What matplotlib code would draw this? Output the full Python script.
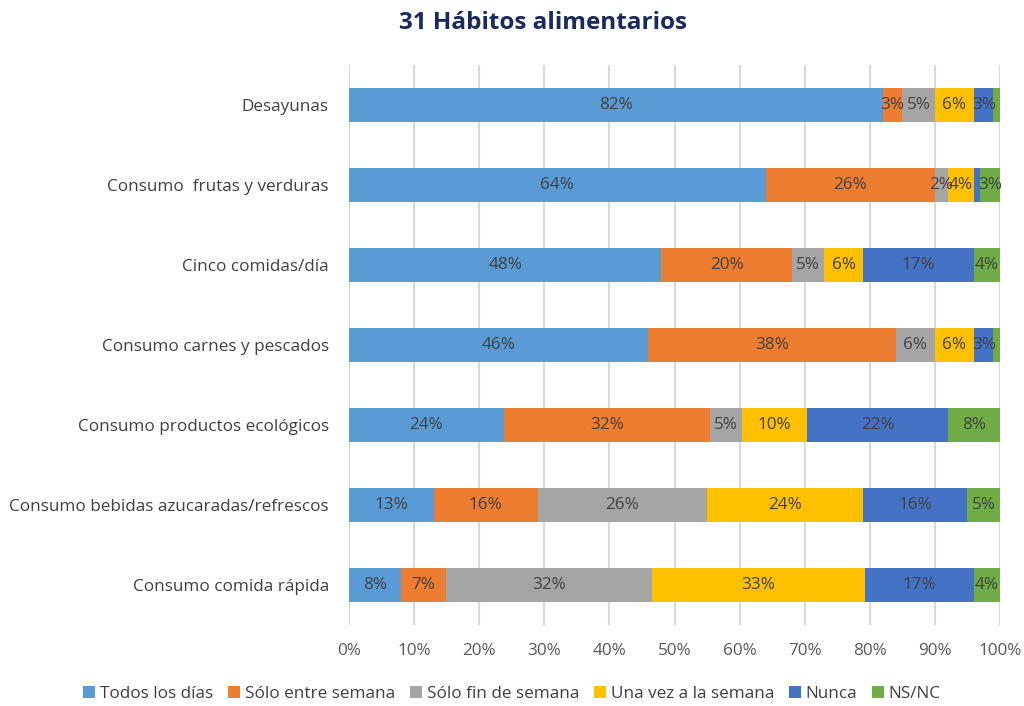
import matplotlib
matplotlib.use("Agg")
import matplotlib.pyplot as plt
import matplotlib.patheffects as pe
import numpy as np

plt.rcParams['font.family'] = ['Open Sans', 'DejaVu Sans']

categories = [
    "Desayunas",
    "Consumo  frutas y verduras",
    "Cinco comidas/día",
    "Consumo carnes y pescados",
    "Consumo productos ecológicos",
    "Consumo bebidas azucaradas/refrescos",
    "Consumo comida rápida",
]
series = ["Todos los días", "Sólo entre semana", "Sólo fin de semana",
          "Una vez a la semana", "Nunca", "NS/NC"]

todos = [82, 64, 48, 46, 24, 13, 8]
entre = [3, 26, 20, 38, 32, 16, 7]
fin = [5, 2, 5, 6, 5, 26, 32]
una_vez = [6, 4, 6, 6, 10, 24, 33]
nunca = [3, 1, 17, 3, 22, 16, 17]
nsnc = [1, 3, 4, 1, 8, 5, 4]

colors = ["#5B9BD5", "#ED7D31", "#A5A5A5", "#FFC000", "#4472C4", "#70AD47"]

data = np.array([todos, entre, fin, una_vez, nunca, nsnc], dtype=float)
totals = data.sum(axis=0)
norm = data / totals * 100

fig = plt.figure(figsize=(10.24, 7.06), dpi=100)
ax = fig.add_axes([349/1024, 1-625/706, 651/1024, 560/706])

fs = 12.3
y = np.arange(len(categories))
left = np.zeros(len(categories))
shadow = [pe.SimplePatchShadow(offset=(1.5, -2), alpha=0.25), pe.Normal()]
for i, (name, col) in enumerate(zip(series, colors)):
    bars = ax.barh(y, norm[i], left=left, height=0.43, color=col, label=name,
                   zorder=3)
    for b in bars:
        b.set_path_effects(shadow)
    for j in range(len(categories)):
        v = data[i][j]
        if v >= 2:
            ax.text(left[j] + norm[i][j] / 2, y[j], f"{int(v)}%",
                    ha="center", va="center", fontsize=fs, color="#404040",
                    zorder=5)
    left += norm[i]

ax.set_xlim(0, 100)
ax.set_ylim(len(categories) - 0.5, -0.5)
ax.set_yticks(y)
ax.set_yticklabels(categories, fontsize=fs, color="#404040")
ax.set_xticks(np.arange(0, 101, 10))
ax.set_xticklabels([f"{t}%" for t in range(0, 101, 10)], fontsize=fs,
                   color="#595959")
ax.tick_params(axis="both", length=0)
ax.tick_params(axis="y", pad=14.5)
ax.tick_params(axis="x", pad=13)
ax.grid(axis="x", color="#D9D9D9", linewidth=1.5, zorder=0)
for s in ax.spines.values():
    s.set_visible(False)

fig.text(0.53, 0.967, "31 Hábitos alimentarios", ha="center", va="center",
         fontsize=17.5, fontweight="bold", color="#1B2A5E")

handles, labels = ax.get_legend_handles_labels()
for h in handles:
    for p in h.patches:
        p.set_path_effects([])
fig.legend(handles, labels, loc="center", bbox_to_anchor=(0.50, 0.017),
           ncol=6, frameon=False, fontsize=fs, handlelength=0.7,
           handleheight=0.7, handletextpad=0.3, columnspacing=0.85,
           labelcolor="#404040")

fig.savefig("out.png", dpi=100)
